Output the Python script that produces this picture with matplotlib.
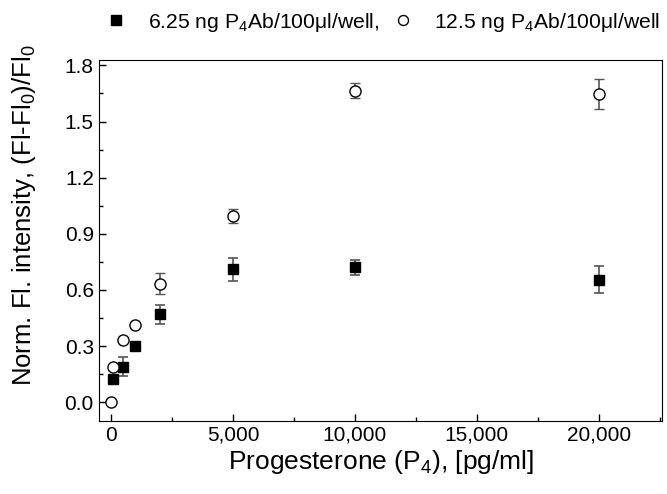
import numpy as np
import matplotlib.pyplot as plt
from matplotlib.ticker import FuncFormatter, MultipleLocator

plt.rcParams['font.family'] = ['Liberation Sans', 'DejaVu Sans']
plt.rcParams['mathtext.fontset'] = 'custom'
plt.rcParams['mathtext.rm'] = 'Liberation Sans'
plt.rcParams['mathtext.default'] = 'regular'

# data
conc_low = [100, 500, 1000, 2000, 5000, 10000, 20000]
resp_low = [0.123, 0.19, 0.30, 0.47, 0.71, 0.72, 0.655]
err_low = [0.0, 0.05, 0.0, 0.05, 0.06, 0.04, 0.074]

conc_high = [0, 100, 500, 1000, 2000, 5000, 10000, 20000]
resp_high = [0.0, 0.187, 0.33, 0.415, 0.634, 0.995, 1.665, 1.648]
err_high = [0.0, 0.0, 0.0, 0.0, 0.055, 0.04, 0.04, 0.079]

label_low = '6.25 ng P$_4$Ab/100\u03bcl/well,'
label_high = '12.5 ng P$_4$Ab/100\u03bcl/well'

fig = plt.figure(figsize=(6.67, 4.94), dpi=100)
ax = fig.add_axes([0.148, 0.148, 0.845, 0.731])

ax.errorbar(conc_low, resp_low, yerr=err_low, fmt='s', color='black', ms=7.5,
            ecolor='#555555', elinewidth=1.2, capsize=3.3, capthick=1.2,
            label=label_low, zorder=3)
ax.errorbar(conc_high, resp_high, yerr=err_high, fmt='o', mfc='white', mec='black',
            mew=1.0, ms=8, ecolor='#555555', elinewidth=1.2, capsize=3.3, capthick=1.2,
            label=label_high, zorder=3)

ax.set_xlim(-500, 22600)
ax.set_ylim(-0.1, 1.83)
ax.xaxis.set_major_locator(MultipleLocator(5000))
ax.xaxis.set_minor_locator(MultipleLocator(2500))
ax.yaxis.set_major_locator(MultipleLocator(0.3))
ax.yaxis.set_minor_locator(MultipleLocator(0.15))
ax.xaxis.set_major_formatter(FuncFormatter(lambda v, p: f'{int(v):,}'))
ax.yaxis.set_major_formatter(FuncFormatter(lambda v, p: f'{v:.1f}'))
ax.tick_params(which='both', direction='in', labelsize=15)
ax.tick_params(which='major', length=5, width=1)
ax.tick_params(which='minor', length=3, width=1)

ax.set_xlabel('Progesterone (P$_4$), [pg/ml]', fontsize=19, labelpad=2)
ax.set_ylabel('Norm. Fl. intensity, (Fl-Fl$_0$)/Fl$_0$', fontsize=18.5)
ax.yaxis.set_label_coords(-0.108, 0.57)

h, l = ax.get_legend_handles_labels()
h = [hh[0] for hh in h]
fig.legend(h, l, loc='upper right', bbox_to_anchor=(1.006, 1.0), ncol=2, frameon=False,
           fontsize=15.2, handlelength=1.0, handletextpad=1.0, columnspacing=0.6,
           markerscale=0.9, borderaxespad=0.1)

fig.savefig('out.png', dpi=100)
